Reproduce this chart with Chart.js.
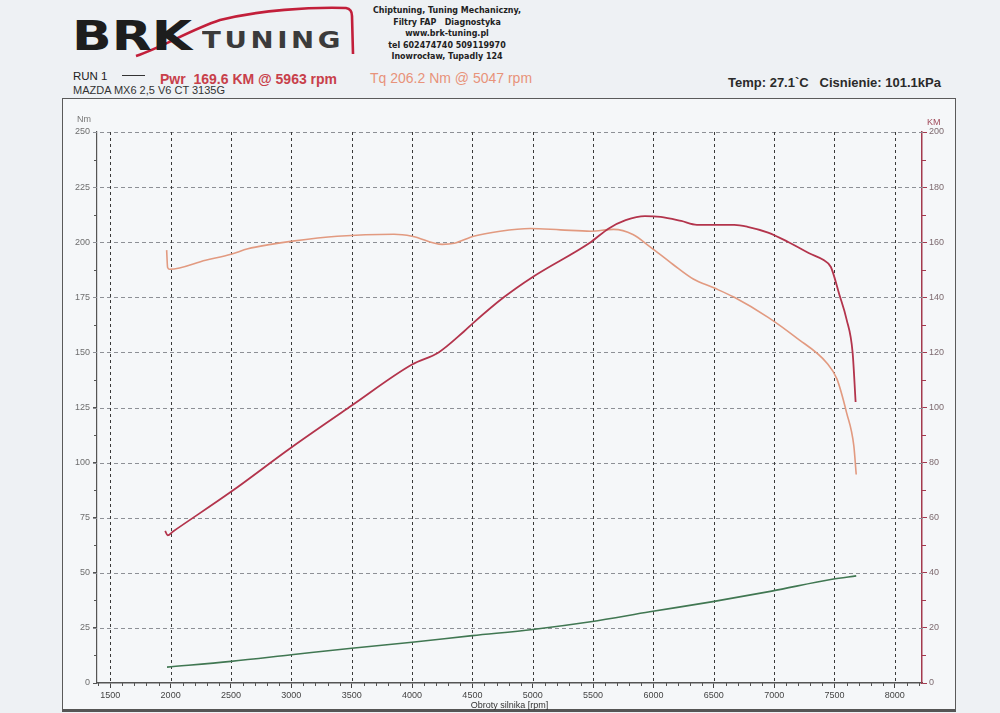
<!DOCTYPE html>
<html>
<head>
<meta charset="utf-8">
<script src="https://cdn.jsdelivr.net/npm/chart.js@4.4.0/dist/chart.umd.min.js"></script>
<style>
  html, body { margin: 0; padding: 0; background: #eef1f4; }
  body { width: 1000px; height: 713px; position: relative; overflow: hidden; font-family: "Liberation Sans", Arial, sans-serif; }
  .abs { position: absolute; white-space: pre; line-height: 1; }
  #frame { position: absolute; left: 62px; top: 98px; width: 892px; height: 610px; border: 1px solid #5a5a5a; border-bottom: 3px solid #555; background: #f5f7f9; }
  #dyno { position: absolute; left: 0; top: 0; }
  .brk { left: 72px; top: 12px; font: bold 41px "DejaVu Sans"; color: #1d1d1d; transform: scaleX(1.27); transform-origin: left top; }
  .tuning { left: 202px; top: 27px; font: bold 23px "DejaVu Sans"; color: #3b3b3b; letter-spacing: 3px; transform: scaleX(1.2); transform-origin: left top; }
  #contact { position: absolute; left: 337px; top: 4px; width: 220px; text-align: center; font: bold 9.5px/11.6px "DejaVu Sans"; color: #222; transform: scaleX(0.84); transform-origin: center top; white-space: pre; }
  .run { left: 73px; top: 71px; font-size: 11.5px; color: #222; }
  .dash { position: absolute; left: 122px; top: 75px; width: 23px; border-top: 1px solid #333; }
  .pwr { left: 160px; top: 71px; font: bold 14px "Liberation Sans"; color: #c8404a; }
  .tq { left: 370px; top: 71px; font-size: 14px; color: #e8937a; }
  .car { left: 73px; top: 85px; font-size: 11px; color: #333; }
  .env { left: 728px; top: 75px; font: bold 13px "Liberation Sans"; color: #2a2a2a; }
  .unit { font-size: 9px; }
</style>
</head>
<body>
<div id="frame"></div>

<svg class="abs" style="left:0;top:0" width="400" height="70">
  <path d="M136,56 C165,46 190,30 220,20 C260,10 310,7 346,8 Q352,9 352,16 L353,54" fill="none" stroke="#c21f3a" stroke-width="2.6"/>
</svg>
<div class="abs brk">BRK</div>
<div class="abs tuning">TUNING</div>
<div id="contact">Chiptuning, Tuning Mechaniczny,
Filtry FAP   Diagnostyka
www.brk-tuning.pl
tel 602474740 509119970
Inowrocław, Tupadly 124</div>

<div class="abs run">RUN 1</div>
<div class="dash"></div>
<div class="abs pwr">Pwr  169.6 KM @ 5963 rpm</div>
<div class="abs tq">Tq 206.2 Nm @ 5047 rpm</div>
<div class="abs car">MAZDA MX6 2,5 V6 CT 3135G</div>
<div class="abs env">Temp: 27.1`C   Cisnienie: 101.1kPa</div>

<canvas id="dyno" width="1000" height="713"></canvas>

<div class="abs unit" style="left:77px;top:115px;color:#777">Nm</div>
<div class="abs unit" style="left:927px;top:118px;color:#a04a5a">KM</div>

<script>
// values (rpm on x)
const pwrRpm = [1955, 1975, 2020, 2500, 3000, 3500, 4000, 4220, 4430, 4515, 4760, 5000, 5480, 5630, 5770, 5930, 6060, 6230, 6360, 6560, 6670, 6780, 6950, 7120, 7290, 7410, 7470, 7540, 7600, 7650, 7675];
const pwrKm  = [55.2, 53.6, 55.0, 69.4, 85.5, 100.7, 115.6, 120, 127.6, 131, 140, 147.4, 160, 165, 168, 169.5, 169.2, 167.7, 166.3, 166.3, 166.3, 165.6, 163.5, 160, 156, 153.5, 151, 141, 132, 120, 102];

const tqRpm = [1967, 1975, 1992, 2290, 2500, 2640, 2830, 3010, 3380, 3850, 4000, 4250, 4350, 4510, 4730, 4980, 5230, 5480, 5670, 5830, 5970, 6160, 6330, 6500, 6670, 6950, 7180, 7440, 7520, 7600, 7660, 7680];
const tqNm  = [196.4, 188.5, 187.7, 191.8, 194.5, 197, 199, 200.5, 202.7, 203.6, 202.7, 199, 199.5, 202.7, 205, 206.2, 205.6, 205, 205.8, 203.5, 198, 190, 183.3, 179.3, 175, 165.9, 156.8, 145, 138, 122.7, 107.7, 94.6];

// green trace at the bottom
const lossRpm = [1970, 2500, 3000, 3500, 4000, 4500, 5000, 5480, 5970, 6480, 6980, 7480, 7680];
const lossNm  = [7.2, 9.8, 12.8, 15.8, 18.5, 21.5, 24.3, 27.8, 32.3, 36.8, 41.7, 47.1, 48.6];

// axis labels
const rpmTicks = [1500, 2000, 2500, 3000, 3500, 4000, 4500, 5000, 5500, 6000, 6500, 7000, 7500, 8000];
const rpmMin = 1390, rpmMax = 8225;
const nmMax = 250, kmMax = 200;

const toPoints = (xs, ys) => xs.map((x, i) => ({x: x, y: ys[i]}));

// dashed grid + small ticks, drawn from the chart's own scales
const dynoGrid = {
  id: 'dynoGrid',
  beforeDatasetsDraw(chart) {
    const {ctx, chartArea: a, scales} = chart;
    const x = scales.x, y = scales.y, y2 = scales.y2;
    ctx.save();
    ctx.lineWidth = 1;

    ctx.strokeStyle = '#8d9096';
    ctx.setLineDash([4, 3]);
    for (let v = 25; v <= nmMax; v += 25) {
      const py = Math.round(y.getPixelForValue(v)) + 0.5;
      ctx.beginPath(); ctx.moveTo(a.left - 4, py); ctx.lineTo(a.right + 4, py); ctx.stroke();
    }

    ctx.strokeStyle = '#3a3a3a';
    ctx.setLineDash([3, 3]);
    rpmTicks.forEach(r => {
      const px = Math.round(x.getPixelForValue(r)) + 0.5;
      ctx.beginPath(); ctx.moveTo(px, a.top); ctx.lineTo(px, a.bottom); ctx.stroke();
    });
    ctx.setLineDash([]);

    // minor ticks
    ctx.strokeStyle = '#555';
    for (let r = 1400; r <= 8200; r += 100) {
      if (r % 500 === 0) continue;
      const px = Math.round(x.getPixelForValue(r)) + 0.5;
      ctx.beginPath(); ctx.moveTo(px, a.bottom); ctx.lineTo(px, a.bottom + 3); ctx.stroke();
    }
    for (let v = 12.5; v < nmMax; v += 25) {
      const py = Math.round(y.getPixelForValue(v)) + 0.5;
      ctx.beginPath(); ctx.moveTo(a.left - 3, py); ctx.lineTo(a.left, py); ctx.stroke();
    }
    ctx.strokeStyle = '#a33a4e';
    for (let v = 10; v < kmMax; v += 20) {
      const py = Math.round(y2.getPixelForValue(v)) + 0.5;
      ctx.beginPath(); ctx.moveTo(a.right, py); ctx.lineTo(a.right + 4, py); ctx.stroke();
    }
    ctx.restore();
  }
};

const tickFont = {family: '"Liberation Sans", Arial, sans-serif', size: 9};

new Chart(document.getElementById('dyno'), {
  type: 'line',
  data: {
    datasets: [{
      label: 'Pwr',
      data: toPoints(pwrRpm, pwrKm),
      yAxisID: 'y2',
      borderColor: '#b3344c',
      borderWidth: 1.8,
      pointRadius: 0,
      cubicInterpolationMode: 'monotone'
    }, {
      label: 'Tq',
      data: toPoints(tqRpm, tqNm),
      yAxisID: 'y',
      borderColor: '#e29a80',
      borderWidth: 1.6,
      pointRadius: 0,
      cubicInterpolationMode: 'monotone'
    }, {
      label: 'Straty',
      data: toPoints(lossRpm, lossNm),
      yAxisID: 'y',
      borderColor: '#407752',
      borderWidth: 1.6,
      pointRadius: 0,
      cubicInterpolationMode: 'monotone'
    }]
  },
  options: {
    responsive: false,
    animation: false,
    devicePixelRatio: 1,
    layout: {padding: {left: 62, right: 45, top: 132, bottom: 0}},
    plugins: {legend: {display: false}, tooltip: {enabled: false}},
    scales: {
      x: {
        type: 'linear',
        min: rpmMin,
        max: rpmMax,
        afterBuildTicks: (s) => { s.ticks = rpmTicks.map(v => ({value: v})); },
        ticks: {autoSkip: false, maxRotation: 0, font: tickFont, color: '#444', padding: 2, callback: (v) => String(v)},
        grid: {drawOnChartArea: false, tickLength: 5, color: '#444'},
        border: {color: '#555', width: 1.5},
        title: {display: true, text: 'Obroty silnika [rpm]', font: tickFont, color: '#333', align: 'center', padding: {top: 0, bottom: 2}},
        afterFit: (s) => { s.height = 30; }
      },
      y: {
        position: 'left',
        min: 0,
        max: nmMax,
        ticks: {stepSize: 25, font: tickFont, color: '#6e6e6e', padding: 3},
        grid: {drawOnChartArea: false, tickLength: 4, color: '#555'},
        border: {color: '#555', width: 1.2},
        afterFit: (s) => { s.width = 35; }
      },
      y2: {
        position: 'right',
        min: 0,
        max: kmMax,
        ticks: {stepSize: 20, font: tickFont, color: '#7d6a6f', padding: 2},
        grid: {drawOnChartArea: false, tickLength: 5, color: '#a33a4e'},
        border: {color: '#a33a4e', width: 1.5},
        afterFit: (s) => { s.width = 33; }
      }
    }
  },
  plugins: [dynoGrid]
});
</script>
</body>
</html>
